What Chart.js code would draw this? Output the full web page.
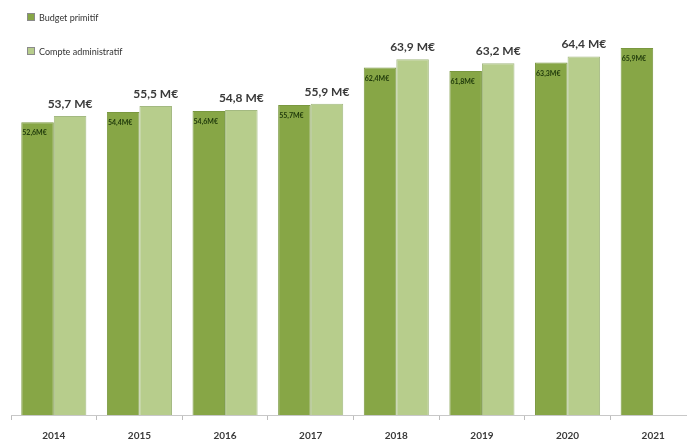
<!DOCTYPE html>
<html>
<head>
<meta charset="utf-8">
<script src="https://cdn.jsdelivr.net/npm/chart.js@4/dist/chart.umd.min.js"></script>
<style>
  html, body { margin: 0; padding: 0; background: #fff; overflow: hidden; width: 687px; height: 440px; }
  #wrap { position: relative; width: 697px; height: 453px; }
  #legend { position: absolute; left: 27px; top: 11px; font: 9px Lato, "Liberation Sans", sans-serif; color: #333; }
  .item { display: flex; align-items: center; height: 12px; }
  .item + .item { margin-top: 22px; }
  .sw { width: 6px; height: 6px; border: 1px solid #8a8a8a; margin-right: 4px; }
</style>
</head>
<body>
<div id="wrap">
  <canvas id="c"></canvas>
  <div id="legend"></div>
</div>
<script>
// Budget de fonctionnement par exercice (en millions d'euros)
const years = ['2014', '2015', '2016', '2017', '2018', '2019', '2020', '2021'];
const budgetPrimitif = [52.6, 54.4, 54.6, 55.7, 62.4, 61.8, 63.3, 65.9];
const compteAdministratif = [53.7, 55.5, 54.8, 55.9, 63.9, 63.2, 64.4, null];
const seriesNames = ['Budget primitif', 'Compte administratif'];

const colBP = '#87a646';
const colCA = '#b7cd8c';

const fmt = v => v.toFixed(1).replace('.', ',') + ' M€';

// Value labels: small one inside the top of each BP bar, bold one above each CA bar
const valueLabels = {
  id: 'valueLabels',
  afterDatasetsDraw(chart) {
    const ctx = chart.ctx;
    ctx.save();
    const bp = chart.getDatasetMeta(0);
    ctx.font = 'bold 7px Lato, "Liberation Sans", sans-serif';
    ctx.fillStyle = '#1e380a';
    ctx.textAlign = 'left';
    ctx.textBaseline = 'middle';
    bp.data.forEach((el, i) => {
      const v = budgetPrimitif[i];
      if (v == null) return;
      ctx.fillText(fmt(v).replace(' ', ''), el.x - el.width / 2 + 1, el.y + 11);
    });
    const ca = chart.getDatasetMeta(1);
    ctx.font = 'bold 12px Lato, "Liberation Sans", sans-serif';
    ctx.fillStyle = '#3a3a3a';
    ctx.textAlign = 'center';
    ctx.textBaseline = 'middle';
    ca.data.forEach((el, i) => {
      const v = compteAdministratif[i];
      if (v == null) return;
      ctx.fillText(fmt(v), el.x, el.y - 12);
    });
    ctx.restore();
  }
};

const chart = new Chart(document.getElementById('c'), {
  type: 'bar',
  data: {
    labels: years,
    datasets: [
      { label: seriesNames[0], data: budgetPrimitif, backgroundColor: colBP, borderColor: '#7a9840', borderWidth: 1 },
      { label: seriesNames[1], data: compteAdministratif, backgroundColor: colCA, borderColor: '#a3b981', borderWidth: 1 }
    ]
  },
  options: {
    responsive: true,
    maintainAspectRatio: false,
    animation: false,
    layout: { padding: { left: 11, right: 1, top: 3, bottom: 1 } },
    datasets: { bar: { barPercentage: 1, categoryPercentage: 0.76 } },
    plugins: { legend: { display: false }, tooltip: { enabled: false } },
    scales: {
      y: { display: false, min: 0, max: 74 },
      x: {
        grid: { drawOnChartArea: false, tickLength: 5, color: '#bdbdbd', offset: true },
        border: { display: true, color: '#c8c8c8' },
        ticks: { padding: 10, color: '#3a3a3a', font: { family: 'Lato, "Liberation Sans", sans-serif', size: 10, weight: 'bold' } }
      }
    }
  },
  plugins: [valueLabels]
});

// Legend built from the dataset names and colours
const legend = document.getElementById('legend');
chart.data.datasets.forEach(ds => {
  const row = document.createElement('div');
  row.className = 'item';
  const sw = document.createElement('span');
  sw.className = 'sw';
  sw.style.background = ds.backgroundColor;
  const tx = document.createElement('span');
  tx.textContent = ds.label;
  row.appendChild(sw);
  row.appendChild(tx);
  legend.appendChild(row);
});
</script>
</body>
</html>
